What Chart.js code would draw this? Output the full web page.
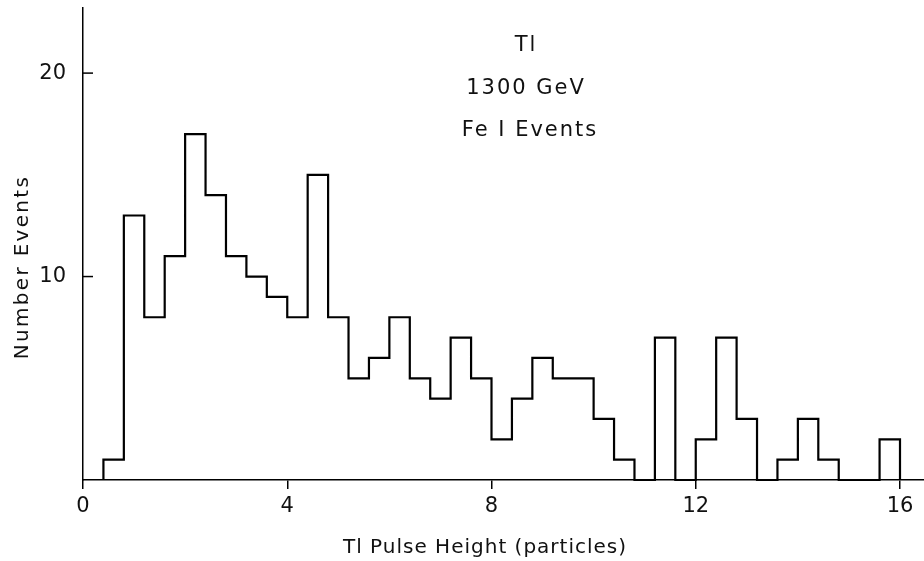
<!DOCTYPE html>
<html>
<head>
<meta charset="utf-8">
<script src="https://cdn.jsdelivr.net/npm/chart.js@4"></script>
<style>
  html, body { margin: 0; padding: 0; background: #fff; }
  #wrap { width: 924px; height: 561px; }
</style>
</head>
<body>
<div id="wrap"><canvas id="histChart"></canvas></div>
<script>
// bin lower edges (particles), width 0.4
var binLow = [0.4, 0.8, 1.2, 1.6, 2.0, 2.4, 2.8, 3.2, 3.6, 4.0,
              4.4, 4.8, 5.2, 5.6, 6.0, 6.4, 6.8, 7.2, 7.6, 8.0,
              8.4, 8.8, 9.2, 9.6, 10.0, 10.4, 10.8, 11.2, 11.6, 12.0,
              12.4, 12.8, 13.2, 13.6, 14.0, 14.4, 14.8, 15.2, 15.6];
var binWidth = 0.4;
var counts = [1, 13, 8, 11, 17, 14, 11, 10, 9, 8,
              15, 8, 5, 6, 8, 5, 4, 7, 5, 2,
              4, 6, 5, 5, 3, 1, 0, 7, 0, 2,
              7, 3, 0, 1, 3, 1, 0, 0, 2];
var xTicks = [0, 4, 8, 12, 16];
var yTicks = [10, 20];
var notes = ["Tl", "1300 GeV", "Fe I Events"];
var xTitle = "Tl Pulse Height (particles)";
var yTitle = "Number Events";

var fontName = "'DejaVu Sans', sans-serif";

// outline points: horizontal at each bin's count, then step to the next
var points = [{ x: binLow[0], y: 0 }];
for (var i = 0; i < binLow.length; i++) {
    points.push({ x: binLow[i], y: counts[i] });
}
points.push({ x: binLow[binLow.length - 1] + binWidth, y: counts[counts.length - 1] });
points.push({ x: binLow[binLow.length - 1] + binWidth, y: 0 });

var textPlugin = {
    id: 'textPlugin',
    afterDraw: function (chart) {
        var ctx = chart.ctx;
        var area = chart.chartArea;
        var ys = chart.scales.y;
        ctx.save();
        // inward y tick marks
        ctx.strokeStyle = '#000';
        ctx.lineWidth = 1.5;
        yTicks.forEach(function (v) {
            var py = ys.getPixelForValue(v);
            ctx.beginPath();
            ctx.moveTo(area.left, py);
            ctx.lineTo(area.left + 10, py);
            ctx.stroke();
        });
        ctx.fillStyle = '#111';
        ctx.textAlign = 'center';
        ctx.textBaseline = 'middle';
        ctx.font = "21px " + fontName;
        ctx.letterSpacing = "2px";
        ctx.fillText(notes[0], 526, 46);
        ctx.fillText(notes[1], 526, 89);
        ctx.fillText(notes[2], 530, 131);
        ctx.font = "20px " + fontName;
        ctx.letterSpacing = "1px";
        ctx.fillText(xTitle, 485, 548);
        ctx.letterSpacing = "2.3px";
        ctx.translate(23, 267);
        ctx.rotate(-Math.PI / 2);
        ctx.fillText(yTitle, 0, 0);
        ctx.restore();
    }
};

new Chart("histChart", {
    type: "line",
    data: {
        datasets: [{
            data: points,
            stepped: 'before',
            borderColor: "#000",
            borderWidth: 2.2,
            pointRadius: 0,
            fill: false,
            clip: false
        }]
    },
    options: {
        responsive: true,
        maintainAspectRatio: false,
        animation: false,
        layout: { padding: { top: 8, right: 0, left: 0, bottom: 0 } },
        plugins: {
            legend: { display: false },
            tooltip: { enabled: false }
        },
        scales: {
            x: {
                type: 'linear',
                min: 0,
                max: 16.47,
                afterBuildTicks: function (scale) {
                    scale.ticks = xTicks.map(function (v) { return { value: v }; });
                },
                afterFit: function (scale) { scale.height = 81; },
                border: { color: '#000', width: 1.5 },
                grid: { drawOnChartArea: false, drawTicks: true, tickLength: 9, color: '#000', lineWidth: 1.5 },
                ticks: { color: '#111', font: { family: fontName, size: 21 }, padding: 5, maxRotation: 0 }
            },
            y: {
                min: 0,
                max: 23.2,
                afterBuildTicks: function (scale) {
                    scale.ticks = yTicks.map(function (v) { return { value: v }; });
                },
                afterFit: function (scale) {
                    scale.width = 83;
                    scale.paddingTop = 0;
                    scale.paddingBottom = 0;
                },
                border: { color: '#000', width: 1.5 },
                grid: { drawOnChartArea: false, drawTicks: false },
                ticks: { color: '#111', font: { family: fontName, size: 21 }, padding: 17 }
            }
        }
    },
    plugins: [textPlugin]
});
</script>
</body>
</html>
